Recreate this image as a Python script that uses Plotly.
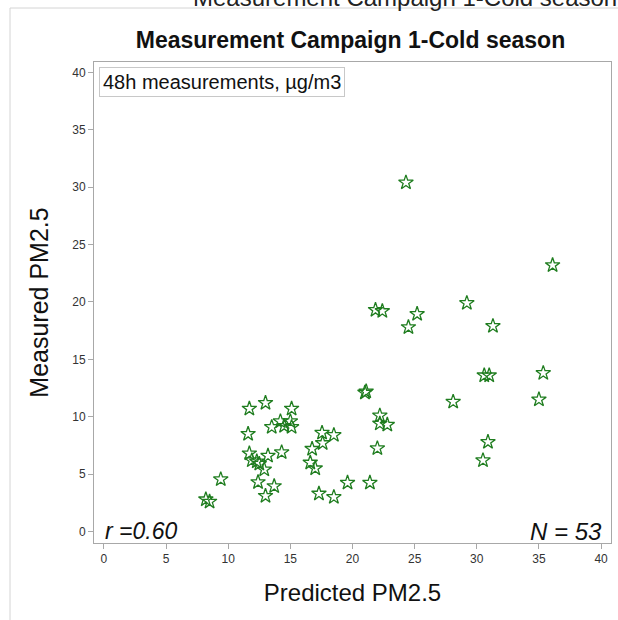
import plotly.graph_objects as go

# values
predicted = [24.3, 21.85, 22.4, 25.2, 24.5, 36.1, 29.2, 31.3, 30.6, 31.0,
             35.35, 28.1, 35.0, 30.9, 30.5, 21.0, 21.1, 11.7, 13.0, 15.1,
             13.5, 14.2, 15.0, 15.1, 11.6, 22.2, 22.2, 22.8, 17.55, 18.5,
             17.6, 16.75, 22.0, 11.7, 12.3, 11.9, 13.2, 14.3, 12.9, 16.6,
             17.0, 9.4, 12.4, 13.7, 13.0, 17.3, 18.5, 19.6, 21.4, 8.2,
             8.5, 12.5, 14.5]
measured = [30.4, 19.3, 19.2, 18.95, 17.8, 23.2, 19.9, 17.9, 13.6, 13.6,
            13.8, 11.3, 11.5, 7.8, 6.2, 12.1, 12.2, 10.7, 11.2, 10.7,
            9.1, 9.6, 9.6, 9.1, 8.5, 10.1, 9.4, 9.3, 8.6, 8.4,
            7.7, 7.2, 7.25, 6.8, 6.1, 6.2, 6.6, 6.9, 5.4, 6.0,
            5.5, 4.55, 4.3, 3.95, 3.1, 3.3, 3.0, 4.25, 4.25, 2.8,
            2.6, 5.9, 9.2]
ticks = [0, 5, 10, 15, 20, 25, 30, 35, 40]
title = "Measurement Campaign 1-Cold season"

# plot area in pixels
L, R, T, B = 94, 611, 62, 543
W, H = 618, 620


def px(x):
    return (x - L) / (R - L)


def py(y):
    return (B - y) / (B - T)


fig = go.Figure()
fig.add_scatter(x=predicted, y=measured, mode="markers",
                marker=dict(symbol="star-open", size=11, color="#1f7d1f",
                            line=dict(width=1.3)),
                showlegend=False)

axis_style = dict(range=[-0.8, 40.8], tickvals=ticks, showgrid=False, zeroline=False,
                  showline=True, linecolor="#a8a8a8", linewidth=1, mirror=True,
                  ticks="outside", ticklen=5, tickcolor="#a8a8a8",
                  tickfont=dict(family="Liberation Sans Narrow, Liberation Sans", size=12, color="#333"))
fig.update_xaxes(**axis_style)
fig.update_yaxes(**axis_style)
fig.update_yaxes(range=[-1.0, 40.9])

fig.update_layout(
    width=W, height=H,
    margin=dict(l=L, r=W - R, t=T, b=H - B),
    plot_bgcolor="white", paper_bgcolor="white",
    font=dict(family="Liberation Sans, Arial", color="#111"),
    title=dict(text="<b>" + title + "</b>", xref="container", x=350.5 / W, xanchor="center",
               y=1 - 40 / H, yanchor="middle", font=dict(size=23, color="#111")),
    xaxis_title=dict(text="Predicted PM2.5", font=dict(size=24), standoff=18),
    yaxis_title=dict(text="Measured PM2.5", font=dict(size=25), standoff=16),
)

# faint page frame (top and left edges)
fig.add_shape(type="line", xref="paper", yref="paper", x0=px(10), x1=px(640),
              y0=py(8), y1=py(8), line=dict(color="#d4d4d4", width=1))
fig.add_shape(type="line", xref="paper", yref="paper", x0=px(10), x1=px(10),
              y0=py(8), y1=py(640), line=dict(color="#d4d4d4", width=1))

# clipped header from previous page
fig.add_annotation(text=title, xref="paper", yref="paper", x=px(405), y=py(-3),
                   xanchor="center", yanchor="middle", showarrow=False,
                   font=dict(size=24, color="#222"))

fig.add_annotation(text="48h measurements, µg/m3", xref="paper", yref="paper",
                   x=px(99), y=py(67), xanchor="left", yanchor="top", showarrow=False,
                   font=dict(size=20, color="#111"), bordercolor="#c8c8c8", borderwidth=1,
                   borderpad=3, bgcolor="white")
fig.add_annotation(text="<i>r =0.60</i>", xref="paper", yref="paper",
                   x=px(103), y=py(531), xanchor="left", yanchor="middle", showarrow=False,
                   font=dict(size=23, color="#111"))
fig.add_annotation(text="<i>N = 53</i>", xref="paper", yref="paper",
                   x=px(604), y=py(531), xanchor="right", yanchor="middle", showarrow=False,
                   font=dict(size=24, color="#111"))

fig.write_html("out.html", config={"displayModeBar": False},
               post_script="document.body.style.margin='0';")
